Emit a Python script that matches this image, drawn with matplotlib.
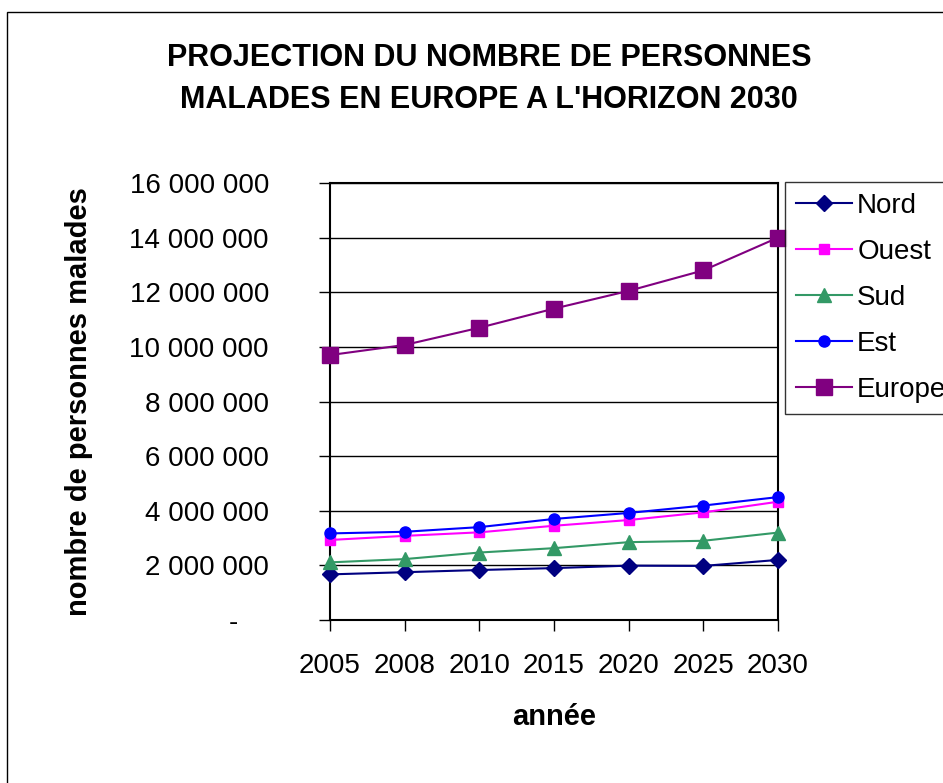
import matplotlib
matplotlib.use("Agg")
import matplotlib.pyplot as plt
from matplotlib.patches import Rectangle
from matplotlib.ticker import FuncFormatter

plt.rcParams['font.family'] = ['Liberation Sans', 'DejaVu Sans']

# Data
annees = ['2005', '2008', '2010', '2015', '2020', '2025', '2030']
nord = [1670000, 1750000, 1830000, 1900000, 1990000, 1980000, 2200000]
ouest = [2930000, 3080000, 3210000, 3450000, 3660000, 3940000, 4330000]
sud = [2110000, 2230000, 2470000, 2630000, 2850000, 2900000, 3200000]
est = [3170000, 3230000, 3400000, 3700000, 3920000, 4190000, 4500000]
europe = [9700000, 10070000, 10700000, 11400000, 12050000, 12800000, 14000000]

fig = plt.figure(figsize=(9.43, 7.83), dpi=100)
ax = fig.add_axes([330 / 943, 1 - 620 / 783, 448 / 943, 437 / 783])

x = range(len(annees))
ax.plot(x, nord, color='#000080', marker='D', markersize=8, lw=1.5, label='Nord', clip_on=False, zorder=5)
ax.plot(x, ouest, color='#FF00FF', marker='s', markersize=7, lw=1.5, label='Ouest', clip_on=False, zorder=5)
ax.plot(x, sud, color='#339966', marker='^', markersize=10, lw=1.5, label='Sud', clip_on=False, zorder=5)
ax.plot(x, est, color='#0000FF', marker='o', markersize=8, lw=1.5, label='Est', clip_on=False, zorder=5)
ax.plot(x, europe, color='#800080', marker='s', markersize=12, lw=1.5, label='Europe', clip_on=False, zorder=6)

ax.set_xlim(0, len(annees) - 1)
ax.set_ylim(0, 16000000)
ax.set_xticks(list(x))
ax.set_xticklabels(annees)
ax.set_yticks(range(0, 16000001, 2000000))


def fmt(v, pos):
    # accounting style: zero shown as a dash
    if v == 0:
        return '-    '
    return f'{int(v):,}'.replace(',', ' ')


ax.yaxis.set_major_formatter(FuncFormatter(fmt))
ax.yaxis.grid(True, color='black', lw=1)
ax.set_axisbelow(True)
for s in ax.spines.values():
    s.set_linewidth(1.5)
    s.set_color('black')
ax.tick_params(axis='y', direction='out', length=8, width=1, pad=36, labelsize=20)
ax.tick_params(axis='x', direction='out', length=8, width=1, pad=16, labelsize=20)

ax.set_xlabel('année', fontsize=21, fontweight='bold', labelpad=17)
ax.set_ylabel('nombre de personnes malades', fontsize=21, fontweight='bold', labelpad=26)

fig.text(489 / 943, 1 - 79 / 783, "PROJECTION DU NOMBRE DE PERSONNES\nMALADES EN EUROPE A L'HORIZON 2030",
         ha='center', va='center', fontsize=22, fontweight='bold', linespacing=1.5)

leg = fig.legend(loc='upper left', bbox_to_anchor=(785 / 943, 1 - 182 / 783), fontsize=20,
                 frameon=True, fancybox=False, edgecolor='black', handlelength=2.0,
                 handletextpad=0.2, labelspacing=0.72, borderpad=0.4, borderaxespad=0)
leg.get_frame().set_linewidth(1)

fig.patches.append(Rectangle((7 / 943, -0.1), 1.2, 1 - 12 / 783 + 0.1, transform=fig.transFigure,
                             fill=False, edgecolor='black', lw=1))

fig.savefig('out.png', dpi=100)
